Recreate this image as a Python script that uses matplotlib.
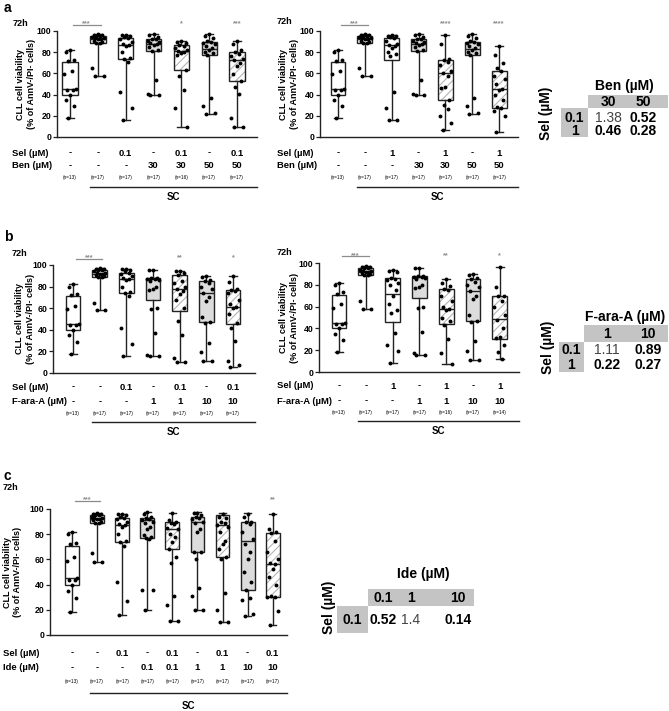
import matplotlib
matplotlib.use('Agg')
import matplotlib.pyplot as plt
from matplotlib.patches import PathPatch, Rectangle

plt.rcParams['font.family'] = ['Liberation Sans', 'DejaVu Sans']
plt.rcParams['font.weight'] = 'bold'
plt.rcParams['hatch.color'] = '#b4b4b4'
plt.rcParams['hatch.linewidth'] = 0.8

W, H = 669, 711
EDGE = '#222222'
HATCHGRAY = '#b4b4b4'
BOXGRAY = '#dcdcdc'
CELLGRAY = '#c4c4c4'
STARGRAY = '#8c8c8c'

# ---- box summaries: (min, q1, median, q3, max), % viable cells ----
ctrl_box = (18, 40, 45, 71, 82)
sc_box = (58, 89, 92, 95, 97)
sel01_box = (16, 74, 87, 93, 96)
sel1_box = (16, 73, 87, 93, 96)
ben30_box = (40, 81, 88, 92, 97)
ben50_box = (22, 77, 83, 90, 97)
sel01_ben30_box = (9, 63, 81, 87, 91)
sel01_ben50_box = (9, 53, 73, 80, 91)
sel1_ben30_box = (7, 35, 60, 73, 96)
sel1_ben50_box = (5, 27, 45, 62, 86)
fara1_box = (16, 68, 87, 88, 95)
fara10_box = (11, 47, 74, 85, 90)
sel01_fara1_box = (10, 57, 78, 91, 94)
sel01_fara10_box = (6, 45, 61, 77, 90)
sel1_b_box = (8, 46, 72, 86, 94)
sel1_fara1_box = (7, 44, 58, 76, 85)
sel1_fara10_box = (12, 30, 49, 70, 96)
ide01_box = (20, 77, 91, 93, 98)
ide1_box = (20, 66, 90, 94, 98)
ide10_box = (15, 36, 75, 90, 97)
sel01_ide01_box = (11, 68, 84, 90, 97)
sel01_ide1_box = (10, 62, 87, 95, 97)
sel01_ide10_box = (8, 30, 56, 81, 96)

# ---- individual patients ----
ctrl_pts = [82, 80, 73, 72, 62, 59, 45, 44, 44, 40, 35, 29, 18]
sc_pts = [97, 96, 96, 95, 95, 94, 93, 93, 92, 92, 91, 90, 89, 89, 65, 58, 58]
sel01_pts = [96, 96, 95, 94, 93, 92, 90, 88, 87, 86, 80, 75, 74, 71, 42, 27, 16]
sel1_pts = [96, 95, 95, 94, 93, 91, 88, 87, 86, 84, 80, 78, 76, 42, 27, 16, 16]
ben30_pts = [97, 96, 94, 92, 92, 91, 90, 89, 88, 87, 85, 82, 81, 54, 41, 40, 40]
ben50_pts = [97, 95, 93, 91, 90, 89, 88, 86, 84, 82, 80, 79, 77, 37, 29, 23, 22]
sel01_ben30_pts = [91, 90, 89, 87, 86, 84, 82, 81, 80, 79, 77, 63, 58, 44, 27, 9]
sel01_ben50_pts = [91, 88, 82, 80, 78, 76, 74, 73, 70, 67, 59, 53, 47, 41, 18, 9, 9]
sel1_ben30_pts = [96, 88, 74, 73, 71, 68, 62, 60, 58, 47, 46, 35, 30, 26, 20, 13, 7]
sel1_ben50_pts = [86, 77, 70, 65, 62, 58, 55, 50, 45, 44, 40, 35, 28, 27, 25, 20, 5]
fara1_pts = [95, 95, 88, 88, 87, 87, 86, 85, 80, 78, 77, 60, 59, 37, 17, 16, 16]
fara10_pts = [90, 89, 86, 85, 83, 80, 78, 74, 70, 67, 52, 47, 46, 28, 19, 11, 11]
sel01_fara1_pts = [94, 94, 93, 91, 85, 83, 80, 78, 76, 73, 68, 60, 48, 35, 14, 10, 10]
sel01_fara10_pts = [90, 84, 78, 77, 76, 74, 68, 64, 61, 60, 55, 46, 42, 30, 11, 7, 6]
sel1_b_pts = [94, 93, 92, 86, 85, 84, 82, 80, 75, 70, 62, 57, 54, 36, 25, 19, 8]
sel1_fara1_pts = [85, 82, 79, 76, 75, 70, 65, 60, 58, 57, 50, 47, 43, 30, 17, 7]
sel1_fara10_pts = [96, 78, 70, 70, 65, 60, 52, 48, 40, 32, 31, 25, 18, 12]
ide01_pts = [98, 96, 94, 93, 92, 91, 90, 89, 86, 84, 79, 78, 77, 76, 36, 36, 20]
ide1_pts = [97, 97, 95, 94, 93, 92, 90, 89, 84, 82, 66, 66, 60, 37, 31, 20, 20]
ide10_pts = [96, 94, 90, 90, 88, 82, 76, 72, 66, 60, 50, 42, 36, 29, 28, 17, 15]
sel01_ide01_pts = [97, 91, 90, 89, 88, 85, 84, 80, 78, 74, 68, 62, 57, 31, 24, 11, 11]
sel01_ide1_pts = [96, 94, 93, 90, 89, 87, 86, 82, 75, 72, 68, 62, 60, 33, 20, 10, 10]
sel01_ide10_pts = [96, 84, 82, 81, 75, 66, 60, 57, 56, 52, 46, 40, 31, 30, 30, 19, 8]

styles7 = ['white', 'white', 'white', 'gray', 'hatch', 'gray', 'hatch']
styles9 = styles7 + ['gray', 'hatch']

n_a1 = ['(n=13)', '(n=17)', '(n=17)', '(n=17)', '(n=16)', '(n=17)', '(n=17)']
n_a2 = ['(n=13)'] + ['(n=17)'] * 6
n_b1 = ['(n=13)'] + ['(n=17)'] * 6
n_b2 = ['(n=13)', '(n=17)', '(n=17)', '(n=17)', '(n=16)', '(n=17)', '(n=14)']
n_c = ['(n=13)'] + ['(n=17)'] * 8

sel01_row = ['-', '-', '0.1', '-', '0.1', '-', '0.1']
sel1_row = ['-', '-', '1', '-', '1', '-', '1']
ben_row = ['-', '-', '-', '30', '30', '50', '50']
fara_row = ['-', '-', '-', '1', '1', '10', '10']
sel_c_row = ['-', '-', '0.1', '-', '0.1', '-', '0.1', '-', '0.1']
ide_row = ['-', '-', '-', '0.1', '0.1', '1', '1', '10', '10']

# combination index tables
ben_cols = ['30', '50']
fara_cols = ['1', '10']
ide_cols = ['0.1', '1', '10']
ci_ben = [[1.38, 0.52], [0.46, 0.28]]
ci_fara = [[1.11, 0.89], [0.22, 0.27]]
ci_ide = [[0.52, 1.4, 0.14]]

JIT = [0, -0.15, 0.15, -0.07, 0.08, -0.21, 0.21, -0.11, 0.11]

fig = plt.figure(figsize=(W / 100, H / 100), dpi=100)


def panel(rect, xlim, boxes, points, styles, stars, row_names, rows, ns,
          name_x, offs, ylab_x, h72):
    x0, x1, ytop, ybot = rect
    ax = fig.add_axes([x0 / W, 1 - ybot / H, (x1 - x0) / W, (ybot - ytop) / H])
    ax_h = ybot - ytop
    stats = [dict(whislo=b[0], q1=b[1], med=b[2], q3=b[3], whishi=b[4]) for b in boxes]
    art = ax.bxp(stats, positions=range(len(boxes)), widths=0.55, capwidths=0.3,
                 patch_artist=True, showfliers=False,
                 boxprops=dict(edgecolor=EDGE, linewidth=1.0),
                 whiskerprops=dict(color=EDGE, linewidth=1.0),
                 capprops=dict(color=EDGE, linewidth=1.0),
                 medianprops=dict(color=EDGE, linewidth=1.0))
    for patch, st in zip(art['boxes'], styles):
        patch.set_facecolor(BOXGRAY if st == 'gray' else 'white')
        if st == 'hatch':
            patch.set_hatch('////')
            patch.set_edgecolor(HATCHGRAY)
            if hasattr(patch, 'set_hatchcolor'):
                patch.set_hatchcolor(HATCHGRAY)
            patch.set_linewidth(0)
            ax.add_patch(PathPatch(patch.get_path(), facecolor='none', edgecolor=EDGE,
                                   linewidth=1.0, zorder=patch.get_zorder()))
    for i, vals in enumerate(points):
        xs = [i + JIT[k % len(JIT)] for k in range(len(vals))]
        ax.plot(xs, vals, 'o', ms=2.8, color='black', mec='none', zorder=4, clip_on=False)

    ax.set_xlim(*xlim)
    ax.set_ylim(0, 100)
    ax.set_yticks(range(0, 101, 20))
    ax.set_xticks([])
    ax.tick_params(axis='y', length=3, width=0.9, pad=1, labelsize=6.3, color=EDGE)
    for s in ['top', 'right']:
        ax.spines[s].set_visible(False)
    for s in ['left', 'bottom']:
        ax.spines[s].set_linewidth(1.0)
        ax.spines[s].set_color(EDGE)
    ax.text(ylab_x, 0.5, 'CLL cell viability\n(% of AnnV-/PI- cells)', rotation=90,
            ha='center', va='center', fontsize=6.5, linespacing=1.25,
            transform=ax.transAxes)

    # significance
    ax.plot([0.1, 1.1], [106, 106], color=STARGRAY, lw=0.9, clip_on=False)
    ax.text(0.6, 107, '***', ha='center', va='center', fontsize=5.2,
            color=STARGRAY, clip_on=False)
    for i, s in stars.items():
        ax.text(i, 107, s, ha='center', va='center', fontsize=5.2,
                color=STARGRAY, clip_on=False)

    # condition rows below the axis
    tr = ax.get_xaxis_transform()
    for r, (name, vals) in enumerate(zip(row_names, rows)):
        fig.text(name_x / W, 1 - (ybot + offs[r]) / H, name, ha='left', va='center',
                 fontsize=6.8)
        for i, v in enumerate(vals):
            ax.text(i, -offs[r] / ax_h, v, transform=tr, ha='center', va='center',
                    fontsize=6.8, clip_on=False)
    for i, v in enumerate(ns):
        ax.text(i, -offs[2] / ax_h, v, transform=tr, ha='center', va='center',
                fontsize=3.4, fontweight='normal', clip_on=False)
    ax.plot([0.7, xlim[1]], [-offs[3] / ax_h] * 2, transform=tr, color=EDGE, lw=1.0,
            clip_on=False)
    ax.text((0.7 + xlim[1]) / 2, -offs[4] / ax_h, 'SC', transform=tr, ha='center',
            va='center', fontsize=7, clip_on=False)
    fig.text(h72[0] / W, 1 - h72[1] / H, '72h', ha='left', va='center', fontsize=6.6)
    return ax


offs_a = (16, 29, 41, 50, 60)
offs_b = (14, 29, 40, 49, 59)
offs_c = (18, 33, 46, 58, 71)

panel((57, 257, 31, 137), (-0.47, 6.72),
      [ctrl_box, sc_box, sel01_box, ben30_box, sel01_ben30_box, ben50_box, sel01_ben50_box],
      [ctrl_pts, sc_pts, sel01_pts, ben30_pts, sel01_ben30_pts, ben50_pts, sel01_ben50_pts],
      styles7, {4: '*', 6: '***'}, ['Sel (\u00b5M)', 'Ben (\u00b5M)'],
      [sel01_row, ben_row], n_a1, 12, offs_a, -0.155, (13, 23))

panel((320, 518, 31, 137), (-0.67, 6.7),
      [ctrl_box, sc_box, sel1_box, ben30_box, sel1_ben30_box, ben50_box, sel1_ben50_box],
      [ctrl_pts, sc_pts, sel1_pts, ben30_pts, sel1_ben30_pts, ben50_pts, sel1_ben50_pts],
      styles7, {4: '****', 6: '****'}, ['Sel (\u00b5M)', 'Ben (\u00b5M)'],
      [sel1_row, ben_row], n_a2, 277, offs_a, -0.155, (277, 21))

panel((53, 255, 265, 373), (-0.75, 6.82),
      [ctrl_box, sc_box, sel01_box, fara1_box, sel01_fara1_box, fara10_box, sel01_fara10_box],
      [ctrl_pts, sc_pts, sel01_pts, fara1_pts, sel01_fara1_pts, fara10_pts, sel01_fara10_pts],
      styles7, {4: '**', 6: '*'}, ['Sel (\u00b5M)', 'F-ara-A (\u00b5M)'],
      [sel01_row, fara_row], n_b1, 12, offs_b, -0.14, (12, 254))

panel((319, 519, 263, 372), (-0.75, 6.72),
      [ctrl_box, sc_box, sel1_b_box, fara1_box, sel1_fara1_box, fara10_box, sel1_fara10_box],
      [ctrl_pts, sc_pts, sel1_b_pts, fara1_pts, sel1_fara1_pts, fara10_pts, sel1_fara10_pts],
      styles7, {4: '**', 6: '*'}, ['Sel (\u00b5M)', 'F-ara-A (\u00b5M)'],
      [sel1_row, fara_row], n_b2, 277, offs_b, -0.15, (277, 253))

panel((50, 287, 509, 635), (-0.88, 8.57),
      [ctrl_box, sc_box, sel01_box, ide01_box, sel01_ide01_box, ide1_box, sel01_ide1_box,
       ide10_box, sel01_ide10_box],
      [ctrl_pts, sc_pts, sel01_pts, ide01_pts, sel01_ide01_pts, ide1_pts, sel01_ide1_pts,
       ide10_pts, sel01_ide10_pts],
      styles9, {8: '**'}, ['Sel (\u00b5M)', 'Ide (\u00b5M)'],
      [sel_c_row, ide_row], n_c, 3, offs_c, -0.158, (3, 487))

# panel letters
for letter, (lx, ly) in {'a': (4, 8), 'b': (4, 237), 'c': (4, 476)}.items():
    fig.text(lx / W, 1 - ly / H, letter, ha='left', va='center', fontsize=10)

# combination index tables (pixel coordinates)
tab = fig.add_axes([0, 0, 1, 1])
tab.set_xlim(0, W)
tab.set_ylim(H, 0)
tab.axis('off')


def ci_table(title, title_xy, cols, col_x, head, rows, row_y, side, values, sel_xy):
    hx0, hx1, hy0, hy1 = head
    sx0, sx1, sy0, sy1 = side
    tab.add_patch(Rectangle((hx0, hy0), hx1 - hx0, hy1 - hy0, color=CELLGRAY, lw=0))
    tab.add_patch(Rectangle((sx0, sy0), sx1 - sx0, sy1 - sy0, color=CELLGRAY, lw=0))
    tab.text(*title_xy, title, ha='center', va='center', fontsize=10)
    tab.text(*sel_xy, 'Sel (\u00b5M)', rotation=90, ha='center', va='center', fontsize=10)
    for c, x in zip(cols, col_x):
        tab.text(x, (hy0 + hy1) / 2, c, ha='center', va='center', fontsize=10)
    for r, (lab, y) in enumerate(zip(rows, row_y)):
        tab.text((sx0 + sx1) / 2, y, lab, ha='center', va='center', fontsize=10)
        for v, x in zip(values[r], col_x):
            tab.text(x, y, f'{v:g}', ha='center', va='center', fontsize=10,
                     fontweight='bold' if v < 1 else 'normal',
                     color='black' if v < 1 else '#444444')


ci_table('Ben (\u00b5M)', (624, 86), ben_cols, [608, 643], (588, 668, 95, 108),
         ['0.1', '1'], [118, 131], (561, 588, 108, 137), ci_ben, (546, 113))
ci_table('F-ara-A (\u00b5M)', (625, 317), fara_cols, [607, 648], (584, 668, 325, 342),
         ['0.1', '1'], [350, 365], (559, 584, 342, 372), ci_fara, (548, 347))
ci_table('Ide (\u00b5M)', (423, 574), ide_cols, [383, 411, 458], (368, 474, 589, 606),
         ['0.1'], [620], (337, 368, 606, 633), ci_ide, (329, 607))

fig.savefig('out.png', dpi=100)
